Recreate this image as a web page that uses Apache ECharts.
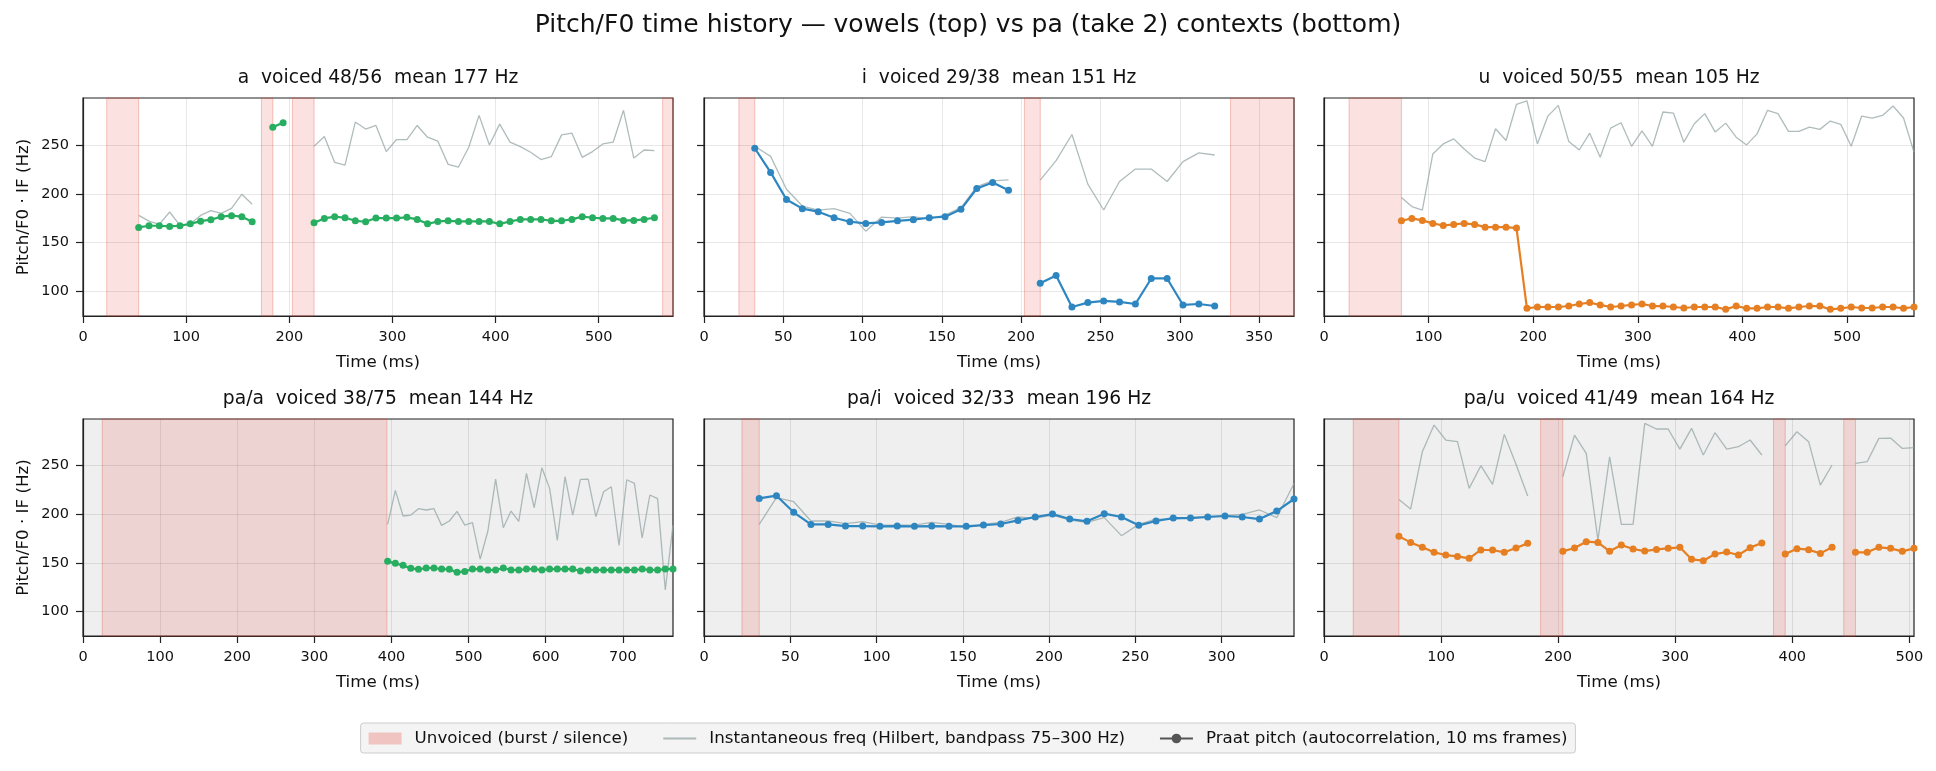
<!DOCTYPE html>
<html>
<head>
<meta charset="utf-8">
<title>Pitch/F0 time history</title>
<script src="https://cdn.jsdelivr.net/npm/echarts@6/dist/echarts.min.js"></script>
<style>
html, body { margin: 0; padding: 0; background: #fff; }
#chart { width: 1936px; height: 771px; }
</style>
</head>
<body>
<div id="chart"></div>
<script>
// Praat frames are 10 ms apart, each segment is given by its first frame time
var FRAME_MS = 10;
var Y_TICKS = [100, 150, 200, 250];

var TITLES = [
    'a  voiced 48/56  mean 177 Hz', 'i  voiced 29/38  mean 151 Hz', 'u  voiced 50/55  mean 105 Hz',
    'pa/a  voiced 38/75  mean 144 Hz', 'pa/i  voiced 32/33  mean 196 Hz', 'pa/u  voiced 41/49  mean 164 Hz'
];
var DURATIONS = [572, 372, 564, 765, 342, 504];
var X_STEPS = [100, 50, 100, 100, 50, 100];

// vowel a
var A_T0 = [54, 184, 224];
var A_PITCH = [
    [165.6, 167.3, 167.3, 166.6, 167.3, 169.3, 172.0, 173.5, 176.6, 177.6, 176.6, 171.4],
    [268.2, 272.7],
    [170.4, 174.8, 176.6, 175.5, 172.4, 171.4, 175.2, 175.2, 175.2, 175.9, 173.8, 169.3, 171.7, 172.4, 171.7, 171.7, 171.7,
     171.7, 169.3, 171.7, 173.8, 173.8, 173.8, 172.4, 172.4, 173.8, 176.6, 175.5, 174.8, 174.8, 172.8, 172.8, 173.8, 175.5]
];
var A_IF = [
    [177.9, 172.1, 168.7, 181.4, 167.6, 169.3, 177.9, 182.7, 180.0, 185.1, 199.6, 189.3],
    null,
    [248.6, 258.6, 232.1, 229.4, 273.4, 266.2, 269.9, 243.2, 255.5, 255.5, 269.9, 257.9, 253.8, 230.1, 227.4, 247.6, 280.2,
     250.0, 271.3, 252.8, 248.3, 242.5, 235.0, 238.0, 260.3, 262.0, 237.3, 243.2, 251.0, 252.8, 285.4, 236.6, 244.8, 244.2]
];
var A_UNV = [[23, 54], [173, 184], [203, 224], [562, 572]];

// vowel i
var I_T0 = [32, 212];
var I_PITCH = [
    [246.6, 221.9, 194.1, 184.8, 181.7, 175.5, 171.4, 169.7, 170.7, 172.4, 173.5, 175.5, 176.6, 184.1, 205.4, 211.6, 203.7],
    [108.6, 116.5, 84.2, 88.7, 90.4, 89.4, 87.3, 113.4, 113.4, 86.3, 87.3, 85.2]
];
var I_IF = [
    [248.6, 238.3, 204.7, 187.5, 183.4, 184.8, 180.0, 161.8, 176.2, 175.2, 176.6, 174.2, 178.3, 185.8, 207.4, 213.3, 214.3],
    [214.0, 233.9, 260.7, 209.9, 183.4, 212.6, 225.3, 225.3, 212.6, 232.9, 241.8, 239.7]
];
var I_UNV = [[22, 32], [202, 212], [332, 372]];

// vowel u
var U_T0 = [74];
var U_PITCH = [
    [172.4, 174.8, 172.8, 169.7, 167.6, 168.7, 169.7, 168.7, 165.9, 165.9, 165.9, 164.9, 82.8, 84.2, 84.2, 84.2, 85.2,
     87.3, 88.7, 86.3, 84.2, 85.2, 86.3, 87.3, 85.2, 85.2, 84.2, 83.2, 84.2, 84.2, 84.2, 81.8, 85.2, 82.8, 82.8, 84.2,
     84.2, 82.8, 84.2, 85.2, 85.2, 81.8, 82.8, 84.2, 83.2, 83.2, 84.2, 84.2, 82.8, 84.2]
];
var U_IF = [
    [196.1, 186.9, 183.4, 240.7, 251.0, 256.2, 245.9, 236.6, 232.9, 266.5, 254.5, 291.6, 295.0, 251.0, 279.5, 290.5, 253.5,
     244.8, 262.0, 237.3, 267.2, 272.7, 248.6, 264.4, 248.6, 283.7, 282.6, 252.8, 271.7, 282.0, 263.1, 272.3, 257.9, 250.0,
     261.3, 285.4, 282.0, 263.8, 263.8, 268.2, 265.9, 274.4, 271.0, 248.6, 279.5, 277.5, 280.2, 289.8, 277.5, 242.5]
];
var U_UNV = [[24, 74]];

// pa/a
var PA_T0 = [395];
var PA_PITCH = [
    [151.7, 149.7, 147.6, 144.5, 143.5, 144.9, 144.9, 143.8, 143.5, 140.4, 141.4, 143.8, 143.8, 142.8, 142.8, 144.9, 142.8,
     142.8, 143.8, 143.8, 142.8, 143.8, 143.8, 143.8, 143.8, 141.8, 142.8, 142.8, 142.8, 142.8, 142.8, 142.8, 142.8, 143.8,
     142.8, 142.8, 143.8, 143.8]
];
var PA_IF = [
    [189.7, 224.7, 198.3, 199.3, 205.8, 204.5, 205.8, 188.7, 193.2, 203.1, 189.0, 191.4, 154.1, 182.9, 236.3, 186.3, 203.4,
     192.8, 242.1, 206.8, 247.9, 226.7, 173.3, 238.7, 199.3, 236.0, 236.3, 197.6, 223.3, 228.4, 168.2, 235.6, 231.8, 175.7,
     219.9, 216.1, 122.3, 189.0]
];
var PA_UNV = [[25, 394]];

// pa/i
var PI_T0 = [32];
var PI_PITCH = [
    [216.4, 219.2, 202.1, 189.7, 189.7, 188.0, 188.0, 187.7, 188.0, 187.7, 188.0, 187.7, 187.7, 189.0, 190.1, 193.8, 197.3,
     200.3, 195.2, 192.8, 200.7, 197.3, 188.7, 193.2, 196.2, 196.2, 197.3, 198.3, 197.3, 195.2, 203.4, 215.8]
];
var PI_IF = [
    [189.7, 217.1, 213.0, 193.2, 193.2, 190.4, 192.5, 189.0, 189.0, 189.0, 191.8, 189.7, 186.3, 189.7, 191.8, 197.3, 195.9,
     199.3, 194.2, 191.8, 196.6, 178.1, 189.7, 195.2, 195.2, 196.6, 197.9, 198.6, 200.0, 204.5, 196.6, 231.8]
];
var PI_UNV = [[22, 32]];

// pa/u
var PU_T0 = [64, 204, 394, 454];
var PU_PITCH = [
    [177.4, 171.2, 166.1, 161.0, 158.2, 156.8, 154.8, 163.4, 163.4, 161.0, 165.4, 170.2],
    [162.0, 165.4, 171.9, 171.2, 162.0, 168.5, 164.4, 162.3, 164.0, 165.1, 166.1, 153.8, 152.4, 159.2, 161.3, 158.2, 165.8, 170.5],
    [159.2, 164.7, 163.7, 159.9, 166.1],
    [161.0, 161.0, 166.1, 165.1, 162.0, 165.1]
];
var PU_IF = [
    [215.4, 205.5, 264.4, 291.8, 276.4, 274.7, 226.7, 250.0, 230.8, 282.2, 251.4, 218.8],
    [238.7, 281.5, 262.7, 173.6, 259.2, 189.7, 189.7, 293.5, 287.7, 287.7, 267.1, 288.4, 261.0, 283.9, 267.1, 269.5, 276.4, 261.0],
    [270.5, 284.9, 274.7, 230.1, 250.7],
    [252.4, 254.1, 278.1, 278.4, 267.8, 268.5]
];
var PU_UNV = [[25, 64], [185, 204], [384, 394], [444, 454]];

var T0S = [A_T0, I_T0, U_T0, PA_T0, PI_T0, PU_T0];
var PITCHES = [A_PITCH, I_PITCH, U_PITCH, PA_PITCH, PI_PITCH, PU_PITCH];
var IFS = [A_IF, I_IF, U_IF, PA_IF, PI_IF, PU_IF];
var UNVS = [A_UNV, I_UNV, U_UNV, PA_UNV, PI_UNV, PU_UNV];

var UNV_NAME = 'Unvoiced (burst / silence)';
var IF_NAME = 'Instantaneous freq (Hilbert, bandpass 75–300 Hz)';
var PRAAT_NAME = 'Praat pitch (autocorrelation, 10 ms frames)';

// vowel colours a / i / u
var VOWEL_COLORS = ['#27ae60', '#2e86c1', '#e67e22'];
var IF_COLOR = '#95a5a6';
var FONT = 'DejaVu Sans';

// layout (px)
var GRID_LEFT = [83, 704, 1324];
var GRID_TOP = [98, 419];
var GRID_H = [218, 217];
var GRID_W = 590;

var myChart = echarts.init(document.getElementById('chart'), null, { renderer: 'canvas' });

// segments -> [t, f] points, with a '-' between segments so the line breaks
function toPoints(t0s, segs) {
    var out = [];
    for (var s = 0; s < segs.length; s++) {
        if (!segs[s]) continue;
        if (out.length) out.push([t0s[s] - 5, '-']);
        for (var i = 0; i < segs[s].length; i++) {
            out.push([t0s[s] + i * FRAME_MS, segs[s][i]]);
        }
    }
    return out;
}

var grids = [], xAxes = [], yAxes = [], series = [];
var titles = [{
    text: 'Pitch/F0 time history — vowels (top) vs pa (take 2) contexts (bottom)',
    left: 968, top: 11, textAlign: 'center', padding: 0,
    textStyle: { fontFamily: FONT, fontSize: 25, fontWeight: 'normal', color: '#111', lineHeight: 28 }
}];

for (var p = 0; p < 6; p++) {
    var row = Math.floor(p / 3), col = p % 3;
    var step = X_STEPS[p];
    var xt = [];
    for (var v = 0; v <= DURATIONS[p]; v += step) xt.push(v);

    grids.push({
        left: GRID_LEFT[col], top: GRID_TOP[row], width: GRID_W, height: GRID_H[row],
        show: true, borderColor: '#222', borderWidth: 1.2,
        backgroundColor: row === 1 ? '#efefef' : '#ffffff'
    });
    titles.push({
        text: TITLES[p],
        left: GRID_LEFT[col] + GRID_W / 2, top: GRID_TOP[row] - 30.5, textAlign: 'center', padding: 0,
        textStyle: { fontFamily: FONT, fontSize: 18.7, fontWeight: 'normal', color: '#111', lineHeight: 22 }
    });
    xAxes.push({
        type: 'value', gridIndex: p, min: 0, max: DURATIONS[p], interval: step,
        name: 'Time (ms)', nameLocation: 'middle', nameGap: 38,
        nameTextStyle: { fontFamily: FONT, fontSize: 16.7, color: '#111' },
        axisLine: { show: true, lineStyle: { color: '#222', width: 1.2 } },
        axisTick: { show: true, length: 7, customValues: xt, lineStyle: { color: '#222', width: 1.2 } },
        axisLabel: { margin: 14, customValues: xt, fontFamily: FONT, fontSize: 14.5, color: '#111',
            formatter: function (val) { return String(val); } },
        splitLine: { show: true, lineStyle: { color: 'rgba(0,0,0,0.09)', width: 1 } }
    });
    yAxes.push({
        type: 'value', gridIndex: p, min: 75, max: 298,
        name: col === 0 ? 'Pitch/F0 · IF (Hz)' : '', nameLocation: 'middle', nameGap: 51,
        nameTextStyle: { fontFamily: FONT, fontSize: 16.7, color: '#111' },
        axisLine: { show: true, lineStyle: { color: '#222', width: 1.2 } },
        axisTick: { show: true, length: 7, customValues: Y_TICKS, lineStyle: { color: '#222', width: 1.2 } },
        axisLabel: { show: col === 0, margin: 14, customValues: Y_TICKS, fontFamily: FONT, fontSize: 14.5, color: '#111' },
        splitLine: { show: false }
    });

    // Hilbert IF (grey) + unvoiced spans + horizontal grid
    series.push({
        name: IF_NAME, type: 'line', xAxisIndex: p, yAxisIndex: p,
        data: toPoints(T0S[p], IFS[p]),
        symbol: 'none', connectNulls: false, z: 3,
        color: IF_COLOR,
        lineStyle: { color: IF_COLOR, width: 1.3, opacity: 0.75 },
        markArea: {
            silent: true,
            itemStyle: { color: 'rgba(231,76,60,0.16)', borderColor: 'rgba(231,76,60,0.32)', borderWidth: 1 },
            data: UNVS[p].map(function (b) { return [{ xAxis: b[0] }, { xAxis: b[1] }]; })
        },
        markLine: {
            silent: true, symbol: 'none', z: 1, animation: false,
            label: { show: false },
            lineStyle: { color: 'rgba(0,0,0,0.09)', width: 1, type: 'solid' },
            data: Y_TICKS.map(function (y) { return { yAxis: y }; })
        }
    });

    // Praat pitch
    var c = VOWEL_COLORS[col];
    series.push({
        name: 'pitch ' + p, type: 'line', xAxisIndex: p, yAxisIndex: p,
        data: toPoints(T0S[p], PITCHES[p]),
        symbol: 'circle', symbolSize: 7, showSymbol: true, connectNulls: false, z: 4,
        color: c,
        itemStyle: { color: c },
        lineStyle: { color: c, width: 2.2 }
    });
}

// dummy series only for the legend entries
series.push({
    name: UNV_NAME, type: 'line', xAxisIndex: 0, yAxisIndex: 0, data: [],
    color: 'rgba(231,76,60,0.28)'
});
series.push({
    name: PRAAT_NAME, type: 'line', xAxisIndex: 0, yAxisIndex: 0, data: [],
    symbol: 'circle', symbolSize: 7, color: '#555',
    itemStyle: { color: '#555' }, lineStyle: { color: '#555', width: 2.2 }
});

myChart.setOption({
    animation: false,
    backgroundColor: '#ffffff',
    title: titles,
    grid: grids,
    xAxis: xAxes,
    yAxis: yAxes,
    legend: {
        data: [
            { name: UNV_NAME, icon: 'rect', itemStyle: { color: 'rgba(231,76,60,0.28)' } },
            // line only, no marker
            { name: IF_NAME, itemStyle: { color: 'rgba(0,0,0,0)', borderWidth: 0, opacity: 0 } },
            { name: PRAAT_NAME }
        ],
        left: 'center', top: 723,
        itemWidth: 33, itemHeight: 12, itemGap: 34,
        padding: [7, 8, 6, 8],
        backgroundColor: '#f4f4f4', borderColor: '#cccccc', borderWidth: 1, borderRadius: 3,
        selectedMode: false,
        textStyle: { fontFamily: FONT, fontSize: 16.7, color: '#111', padding: [0, 0, 0, 8] }
    },
    series: series
});
</script>
</body>
</html>
